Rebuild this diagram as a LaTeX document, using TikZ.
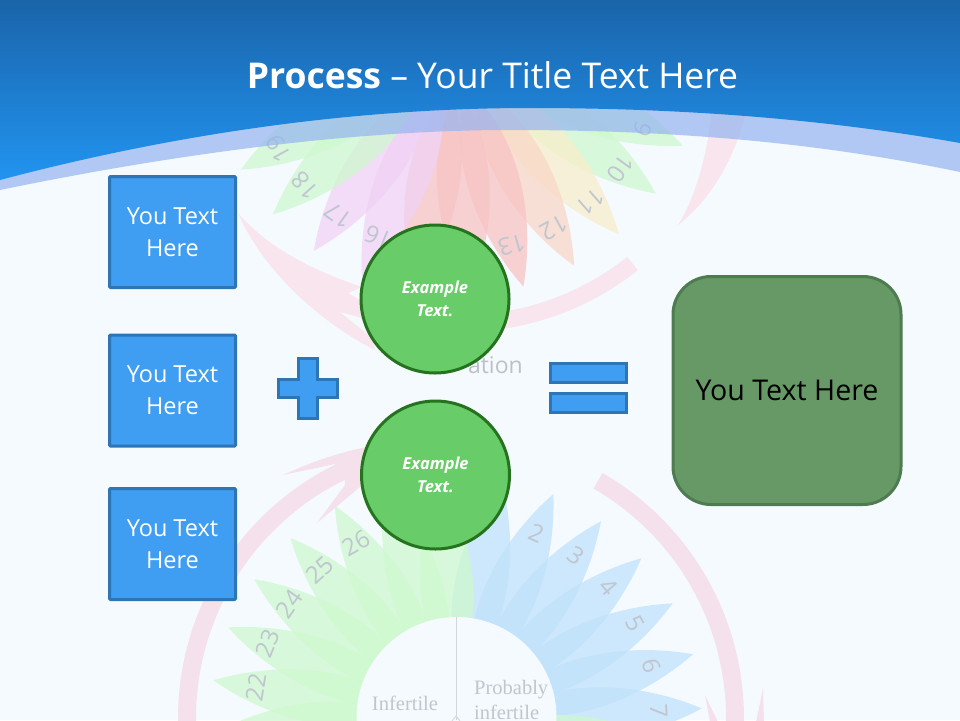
\documentclass[tikz,border=0pt]{standalone}
\usepackage{fontspec}
\setmainfont{Open Sans}
\newfontfamily\wheelfont{Liberation Serif}
\usetikzlibrary{shadings}
\definecolor{pageback}{HTML}{F5FAFF}
\definecolor{headtop}{RGB}{26,100,170}
\definecolor{headmid}{RGB}{34,132,222}
\definecolor{headbot}{RGB}{33,148,240}
\definecolor{bandcol}{RGB}{149,180,240}
\definecolor{ringcol}{HTML}{F5E1EC}
\definecolor{crescol}{HTML}{F8E5EE}
\definecolor{pblue}{RGB}{192,226,251}
\definecolor{pgreen}{RGB}{206,248,206}
\definecolor{pyellow}{RGB}{249,237,203}
\definecolor{porange}{RGB}{249,215,199}
\definecolor{pred}{RGB}{248,195,196}
\definecolor{pviolet}{RGB}{241,210,245}
\definecolor{wheeltext}{HTML}{C0C5CF}
\definecolor{ationtext}{HTML}{BCC1C9}
\definecolor{boxfill}{HTML}{3F9DF2}
\definecolor{boxline}{HTML}{2E75B6}
\definecolor{circfill}{HTML}{68CC68}
\definecolor{circline}{HTML}{26731F}
\definecolor{greenfill}{HTML}{679966}
\definecolor{greenline}{HTML}{4F7B50}
\tikzset{
  ringpiece/.style={fill=ringcol},
  crescent/.style={fill=crescol},
  bluebox/.style={draw=boxline,fill=boxfill,line width=3pt,rounded corners=1pt,minimum width=126pt,minimum height=111pt,inner sep=0pt,text=white,align=center,font=\fontsize{23.5}{32}\selectfont},
  blueshape/.style={draw=boxline,fill=boxfill,line width=3pt},
  greencircle/.style={circle,draw=circline,fill=circfill,line width=3pt,minimum size=148pt,inner sep=0pt,text=white,align=center,font=\fontsize{16.5}{23}\selectfont\bfseries\itshape},
  resultbox/.style={draw=greenline,fill=greenfill,line width=3pt,rounded corners=38pt,minimum width=228pt,minimum height=228pt,inner sep=0pt,text=black,font=\fontsize{28.6}{34}\selectfont},
  daynum/.style={text=wheeltext,font=\fontsize{24}{24}\selectfont,transform shape,inner sep=0pt},
  wheelword/.style={text=wheeltext,font=\fontsize{20.5}{25}\selectfont\wheelfont,inner sep=0pt}
}
\newcommand{\onepetal}[3]{%
  \pgfmathsetmacro\petalang{10.5+12.8*(#3-1)}
  \begin{scope}[shift={#1},rotate=-\petalang]
    \fill[fill=#2,fill opacity=.75] (0,-40) .. controls (-42,-105) and (-27,-190) .. (0,-246) .. controls (27,-190) and (42,-105) .. (0,-40) -- cycle;
  \end{scope}}
\newcommand{\onelabel}[3]{%
  \pgfmathsetmacro\petalang{10.5+12.8*(#3-1)}
  \begin{scope}[shift={#1},rotate=-\petalang]
    \node[daynum] (#2#3) at (0,-203) {#3};
  \end{scope}}
\begin{document}
\begin{tikzpicture}[x=1pt,y=-1pt]
\useasboundingbox (0,0) rectangle (960,720);
\clip (0,0) rectangle (960,720);
\fill[pageback] (0,0) rectangle (960,720);

% --- rings, lower wheel
\fill[ringpiece] plot[domain=60:-3,samples=40] ({461+283*cos(\x)},{718-283*sin(\x)})
  -- plot[domain=-3:60,samples=40] ({461+265*cos(\x)},{718-265*sin(\x)}) -- cycle;
\fill[ringpiece] plot[domain=183:116,samples=40] ({461+283*cos(\x)},{718-283*sin(\x)})
  -- (283,475) .. controls (320,458) and (360,445) .. (400,443) -- (400,460)
  -- (360,487) -- (317,523) -- (345,485)
  -- plot[domain=116:183,samples=40] ({461+265*cos(\x)},{718-265*sin(\x)}) -- cycle;
\fill[ringpiece] (705,695) -- (718,722) -- (710,722) -- cycle;
\fill[ringpiece] (763,688) -- (756,722) -- (764,722) -- cycle;

% --- rings, upper wheel
\fill[crescent] plot[domain=51.5:100,samples=40] ({461+284*cos(\x)},{48+284*sin(\x)})
  -- plot[domain=100:51.5,samples=40] ({461+267*cos(\x)},{48+267*sin(\x)}) -- cycle;
\fill[crescent] (238,213) .. controls (265,245) and (310,270) .. (362,287)
  -- (348,293) -- (362,301) -- (362,318) -- (340,312) -- (372,338) -- (375,350)
  .. controls (315,320) and (260,265) .. (238,213) -- cycle;
\fill[crescent] (678,225) .. controls (697,195) and (708,150) .. (712,108)
  -- (747,108) .. controls (735,160) and (710,200) .. (678,225) -- cycle;

% --- lower wheel petals
\foreach \n in {1,...,7}{\onepetal{(456,720)}{pblue}{\n}}
\foreach \n in {20,...,28}{\onepetal{(456,720)}{pgreen}{\n}}
\onepetal{(456,720)}{pgreen}{8}
\onepetal{(456,720)}{pgreen}{9}
% --- upper wheel petals
\foreach \n/\c in {7/pblue,8/pgreen,9/pgreen,10/pgreen,11/pyellow,12/porange,13/pred,14/pred,15/pred,16/pviolet,17/pviolet,18/pgreen,19/pgreen,20/pgreen}{\onepetal{(456,50)}{\c}{\n}}

% --- numbers
\foreach \n in {2,...,7,22,23,24,25,26}{\onelabel{(456,720)}{low}{\n}}
\foreach \n in {9,10,11,12,13,16,17,18,19}{\onelabel{(456,50)}{up}{\n}}

% --- hub of the lower wheel
\fill[pageback] (456.5,717) circle[radius=100];
\draw[color=wheeltext!70,line width=1pt] (456,617) -- (456,720);
\draw[color=wheeltext!70,line width=.8pt] (452,721) -- (456,716) -- (460,721);
\node[wheelword] (infertile) at (405,703) {Infertile};
\node[wheelword,anchor=west,align=left] (probably) at (474,700) {Probably\\infertile};
\node[anchor=base east,inner sep=0pt,text=ationtext,font=\fontsize{23}{23}\selectfont] (ation) at (523,373) {ation};

% --- header
\fill[bandcol,fill opacity=.7] (0,178) .. controls (170,133) and (350,106) .. (530,106) .. controls (690,106) and (830,118) .. (960,141)
  -- (960,172) .. controls (830,145) and (690,130) .. (510,130) .. controls (350,130) and (170,155) .. (0,190) -- cycle;
\shade[top color=headtop,middle color=headmid,bottom color=headbot]
  (0,0) -- (960,0) -- (960,143) .. controls (830,120) and (690,108) .. (530,108) .. controls (350,108) and (170,135) .. (0,180) -- cycle;
\node[text=white,inner sep=0pt,font=\fontsize{35.5}{40}\selectfont] (title) at (492.5,75) {\textbf{Process} – Your Title Text Here};

% --- foreground
\node[bluebox] (box1) at (172.5,232) {You Text\\Here};
\node[bluebox] (box2) at (172.5,390.5) {You Text\\Here};
\node[bluebox] (box3) at (172.5,544) {You Text\\Here};
\draw[blueshape] (298.5,358.5) -- (317.5,358.5) -- (317.5,379.5) -- (337.5,379.5) -- (337.5,397.5) -- (317.5,397.5) -- (317.5,418.5) -- (298.5,418.5) -- (298.5,397.5) -- (278.5,397.5) -- (278.5,379.5) -- (298.5,379.5) -- cycle;
\draw[blueshape] (550.5,363.5) rectangle (626.5,382.5);
\draw[blueshape] (550.5,393.5) rectangle (626.5,412.5);
\node[greencircle] (circ1) at (435,299) {Example\\Text.};
\node[greencircle] (circ2) at (435.5,475) {Example\\Text.};
\node[resultbox] (result) at (787,390.5) {You Text Here};
\end{tikzpicture}
\end{document}
